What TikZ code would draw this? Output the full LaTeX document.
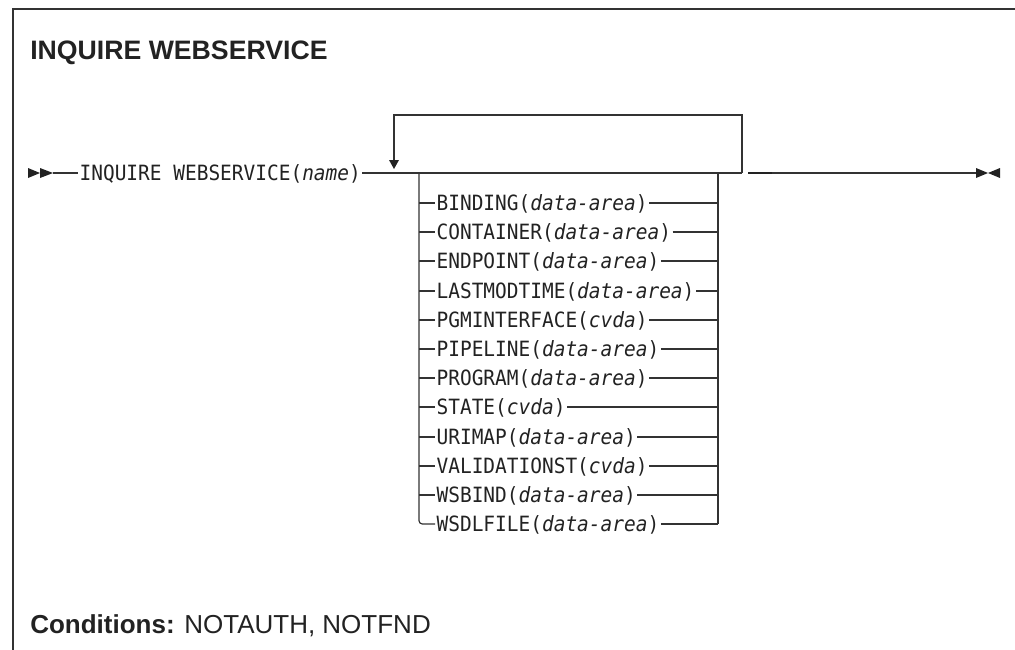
\documentclass[tikz,border=0pt]{standalone}
\usepackage{fontspec}
\usepackage{graphicx}
\setmainfont{Liberation Sans}
\newfontfamily\synfont{DejaVu Sans Mono}
\newcommand{\tall}[1]{\scalebox{1}[1.08]{#1}}
\definecolor{ink}{HTML}{222222}
\definecolor{railc}{HTML}{333333}
\begin{document}
\begin{tikzpicture}[x=0.75pt,y=-0.75pt,
  rail/.style={line width=0.9pt, draw=railc},
  syn/.style={font=\synfont\fontsize{14.6}{16}\selectfont, text=ink,
    inner xsep=1pt, inner ysep=0pt, anchor=base west},
  tip/.style={fill=ink, draw=none},
  heading/.style={font=\bfseries\fontsize{20}{24}\selectfont, text=ink,
    inner sep=0pt, anchor=base west}]
\useasboundingbox (0,0) rectangle (1015,650);

% frame
\draw[line width=1.1pt, draw=railc] (1015,9) -- (13,9) -- (13,650);

% heading
\node[heading] (title) at (30,59) {INQUIRE WEBSERVICE};

% rail junctions
\coordinate (start) at (53,173);
\coordinate (bl) at (419,173);
\coordinate (br) at (718,173);
\coordinate (lr) at (742,173);
\coordinate (lt) at (742,115);
\coordinate (ll) at (394,115);
\coordinate (la) at (394,160);
\coordinate (th1) at (748,173);
\coordinate (th2) at (772,173);
\coordinate (fin) at (976,173);

% start marker
\fill[tip] (28,168) -- (40,173) -- (28,178) -- cycle;
\fill[tip] (40,168) -- (53,173) -- (40,178) -- cycle;

% command
\node[syn] (cmd) at (78,180.5) {\tall{INQUIRE WEBSERVICE(\textit{name})}};
\draw[rail] (start) -- (cmd.west |- start);
\draw[rail] (cmd.east |- start) -- (lr);

% repeat loop
\draw[rail] (lr) -- (lt) -- (ll) -- (la);
\fill[tip] (389,160) -- (399,160) -- (394,169) -- cycle;

% exit and end marker
\draw[line width=2pt, draw=ink] (th1) -- (th2);
\draw[rail] (th2) -- (fin);
\fill[tip] (976,168) -- (988,173) -- (976,178) -- cycle;
\fill[tip] (1000,168) -- (988,173) -- (1000,178) -- cycle;

% options
\foreach \kw/\arg [count=\i from 0] in {
  BINDING/data-area, CONTAINER/data-area, ENDPOINT/data-area,
  LASTMODTIME/data-area, PGMINTERFACE/cvda, PIPELINE/data-area,
  PROGRAM/data-area, STATE/cvda, URIMAP/data-area,
  VALIDATIONST/cvda, WSBIND/data-area, WSDLFILE/data-area} {
  \pgfmathsetmacro\yy{round(203+29.2*\i)}
  \coordinate (l\i) at (419,\yy);
  \coordinate (r\i) at (718,\yy);
  \node[syn] (o\i) at (435,\yy+7.5) {\tall{\kw(\textit{\arg})}};
  \ifnum\i<11 \draw[rail] (l\i) -- (o\i.west |- l\i); \fi
  \draw[rail] (o\i.east |- r\i) -- (r\i);
}
\draw[rail, rounded corners=2.5pt] (bl) -- (l11) -- (o11.west |- l11);
\draw[rail] (br) -- (r11);

% conditions
\node[anchor=base west, inner sep=0pt, text=ink,
  font=\fontsize{19.5}{22}\selectfont] (cond) at (30,633)
  {\textbf{Conditions:} NOTAUTH, NOTFND};
\end{tikzpicture}
\end{document}
